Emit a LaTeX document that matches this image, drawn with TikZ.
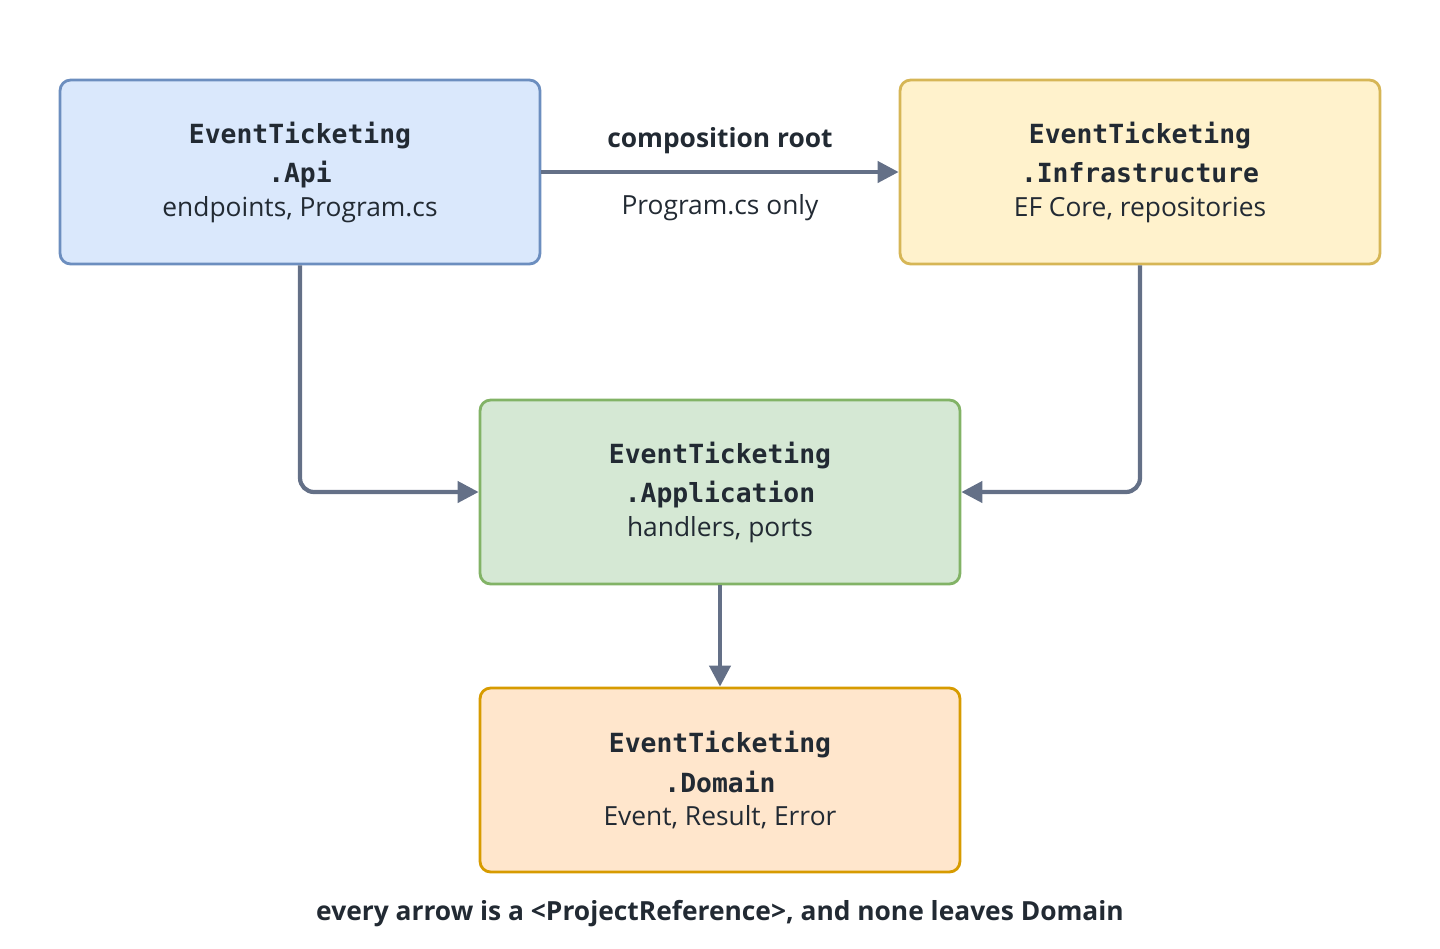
\documentclass[tikz,border=0pt]{standalone}
\usepackage{fontspec}
\setmainfont{Open Sans}
\setmonofont{DejaVu Sans Mono}
\usetikzlibrary{arrows.meta}
\definecolor{linkgray}{HTML}{647087}
\definecolor{textdark}{HTML}{222A33}
\definecolor{apifill}{HTML}{DAE8FC}\definecolor{apiline}{HTML}{6C8EBF}
\definecolor{infrafill}{HTML}{FFF2CC}\definecolor{infraline}{HTML}{D6B656}
\definecolor{appfill}{HTML}{D5E8D4}\definecolor{appline}{HTML}{82B366}
\definecolor{domfill}{HTML}{FFE6CC}\definecolor{domline}{HTML}{D79B00}
\tikzset{
  layer/.style={draw, line width=1.6pt, rounded corners=6pt, minimum width=9.6cm, minimum height=3.68cm},
  ref/.style={draw=linkgray, line width=2.4pt, -{Triangle[length=12pt,width=12pt]}, rounded corners=8pt},
  every node/.style={text=textdark}
}
\newcommand{\layertext}[2]{%
  \parbox{8cm}{\centering\fontsize{15}{22.5}\selectfont\ttfamily\bfseries #1\\[1pt]
  \rmfamily\mdseries\fontsize{15}{18}\selectfont #2}}
\begin{document}
\begin{tikzpicture}[x=0.02cm, y=-0.02cm]
  \useasboundingbox (0,0) rectangle (1440,948);
  % project boxes
  \node[layer, fill=apifill, draw=apiline] (api) at (300,172)
    {\layertext{EventTicketing\\.Api}{endpoints, Program.cs}};
  \node[layer, fill=infrafill, draw=infraline] (infra) at (1140,172)
    {\layertext{EventTicketing\\.Infrastructure}{EF Core, repositories}};
  \node[layer, fill=appfill, draw=appline] (app) at (720,492)
    {\layertext{EventTicketing\\.Application}{handlers, ports}};
  \node[layer, fill=domfill, draw=domline] (dom) at (720,780)
    {\layertext{EventTicketing\\.Domain}{Event, Result, Error}};
  % references
  \draw[ref] (api.east) -- (infra.west)
    node[midway, above=6pt, font=\fontsize{15}{18}\selectfont\bfseries] {composition root}
    node[midway, below=8pt, font=\fontsize{15}{18}\selectfont] {Program.cs only};
  \draw[ref] (api.south) |- (app.west);
  \draw[ref] (infra.south) |- (app.east);
  \draw[ref] (app.south) -- (dom.north);
  \node[font=\fontsize{15}{18}\selectfont\bfseries] (note) at (720,914)
    {every arrow is a <ProjectReference>, and none leaves Domain};
\end{tikzpicture}
\end{document}
